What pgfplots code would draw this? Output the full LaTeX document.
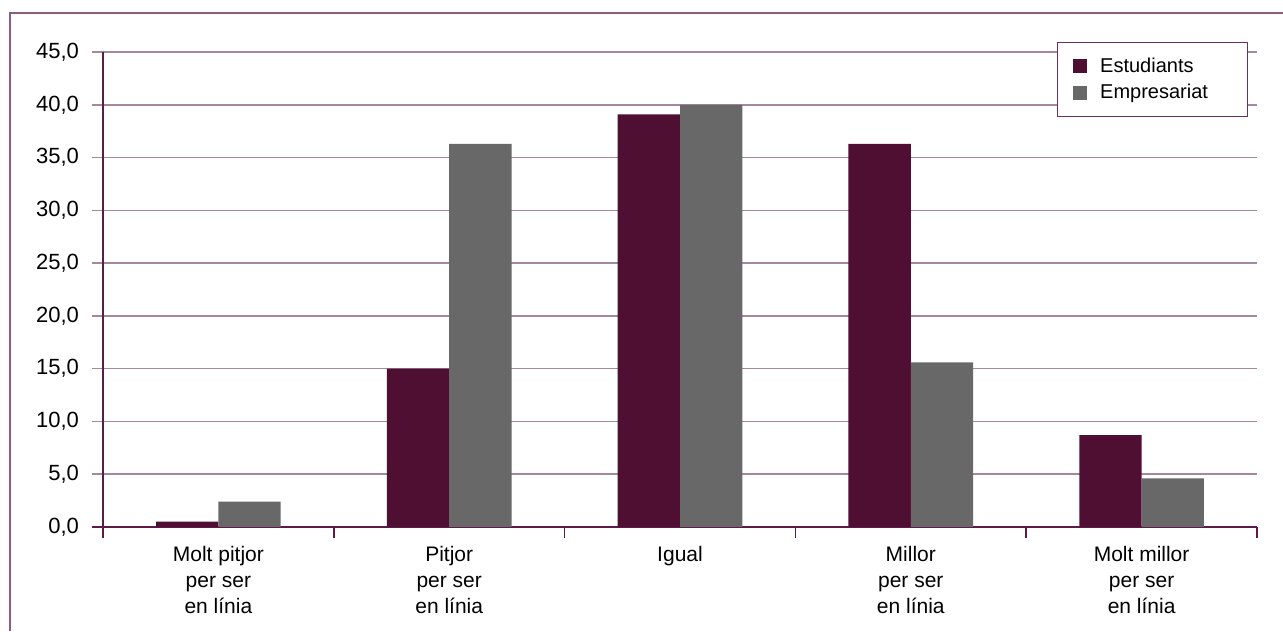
\documentclass[border=0pt]{standalone}
\usepackage{pgfplots}
\pgfplotsset{compat=1.18}
\usepackage{fontspec}
\setmainfont{Liberation Sans}
\definecolor{est}{HTML}{4E0F33}
\definecolor{emp}{HTML}{686868}
\definecolor{gridc}{HTML}{A5889B}
\definecolor{axc}{HTML}{5E1A48}
\definecolor{framec}{HTML}{8C5C7C}
\definecolor{legc}{HTML}{6E3060}
\begin{document}
\begin{tikzpicture}
\path[use as bounding box] (0pt,0pt) rectangle (641.5pt,315.5pt);
\draw[framec, line width=1pt] (5pt,0pt) -- (5pt,309pt) -- (641.5pt,309pt);
\begin{axis}[
  at={(51.5pt,52pt)}, anchor=south west,
  width=577pt, height=237.5pt, scale only axis,
  xmin=-0.5, xmax=4.5, ymin=0, ymax=45,
  axis lines=left, axis line style={-, axc, line width=1pt},
  ybar=0pt, bar width=0.27,
  ytick={0,5,...,45},
  ymajorgrids, grid style={gridc, line width=0.8pt},
  xtick={0,...,4},
  xticklabels={{Molt pitjor\\per ser\\en línia},{Pitjor\\per ser\\en línia},{Igual},{Millor\\per ser\\en línia},{Molt millor\\per ser\\en línia}},
  major x tick style={draw=none},
  minor xtick={-0.5,0.5,1.5,2.5,3.5,4.5},
  minor x tick style={axc, line width=0.8pt},
  minor tick length=5.5pt,
  major tick length=5.5pt,
  tick align=outside,
  y tick style={gridc, line width=0.8pt},
  extra y ticks={0}, extra y tick labels={},
  extra y tick style={grid=none, y tick style={axc, line width=0.8pt}},
  xticklabel style={align=center, font=\fontsize{10.5}{13}\selectfont, yshift=-0.5pt},
  yticklabel style={font=\fontsize{11}{13}\selectfont, xshift=-3pt},
  /pgf/number format/.cd, fixed, fixed zerofill, precision=1, use comma, assume math mode=true,
  /pgfplots/.cd,
  legend style={at={(rel axis cs:0.992,1.021)}, anchor=north east, draw=legc, line width=0.6pt,
    font=\fontsize{10}{12}\selectfont, inner xsep=8pt, inner ysep=5.5pt, row sep=0.5pt,
    nodes={text width=62pt, inner xsep=3.5pt}},
  legend cell align=left,
  legend image code/.code={\fill[#1] (0pt,-3.5pt) rectangle (7pt,3.5pt); \path (10pt,0pt);},
]
\addplot[fill=est, draw=none] coordinates {(0,0.5) (1,15.0) (2,39.1) (3,36.3) (4,8.7)};
\addplot[fill=emp, draw=none] coordinates {(0,2.4) (1,36.3) (2,40.0) (3,15.6) (4,4.6)};
\legend{Estudiants, Empresariat}
\end{axis}
\end{tikzpicture}
\end{document}
